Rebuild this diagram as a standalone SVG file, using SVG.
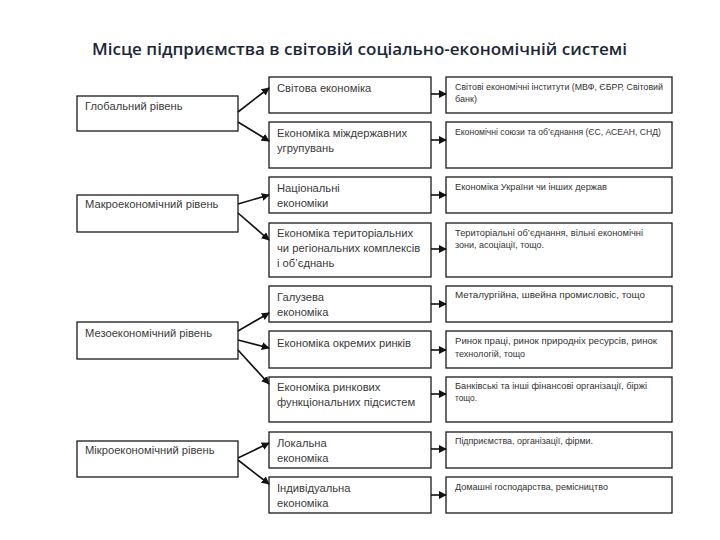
<svg xmlns="http://www.w3.org/2000/svg" width="720" height="540" viewBox="0 0 720 540">
<defs>
<marker id="ah" viewBox="0 0 10 10" refX="9" refY="5" markerWidth="5" markerHeight="5" orient="auto" markerUnits="strokeWidth">
<path d="M0,0 L10,5 L0,10 z" fill="#111"/>
</marker>
<style>
.box{fill:#fff;stroke:#1a1a1a;stroke-width:1.3}
.t{font-family:"Liberation Sans",Arial,sans-serif;font-size:11.2px;fill:#3a3a3a}
.s{font-family:"Liberation Sans",Arial,sans-serif;font-size:9px;fill:#333}
.title{font-family:"Open Sans","Liberation Sans",sans-serif;font-size:16px;font-weight:600;fill:#1b2838}
.c{stroke:#111;stroke-width:1.6;fill:none;marker-end:url(#ah)}
</style>
</defs>
<rect width="720" height="540" fill="#fff"/>
<text class="title" x="92" y="55" textLength="535" lengthAdjust="spacingAndGlyphs">Місце підприємства в світовій соціально-економічній системі</text>

<g id="left-global"><rect class="box" x="77" y="96" width="161" height="35"/><text class="t" x="85" y="110">Глобальний рівень</text></g>
<g id="left-macro"><rect class="box" x="77" y="195" width="161" height="37"/><text class="t" x="85" y="208">Макроекономічний рівень</text></g>
<g id="left-meso"><rect class="box" x="77" y="322" width="161" height="37"/><text class="t" x="85" y="337">Мезоекономічний рівень</text></g>
<g id="left-micro"><rect class="box" x="77" y="441" width="161" height="36"/><text class="t" x="85" y="454">Мікроекономічний рівень</text></g>

<g id="m1"><rect class="box" x="269" y="77" width="162" height="36"/><text class="t" x="277" y="92">Світова економіка</text></g>
<g id="m2"><rect class="box" x="269" y="122" width="162" height="46"/><text class="t" x="277" y="137">Економіка міждержавних</text><text class="t" x="277" y="152">угрупувань</text></g>
<g id="m3"><rect class="box" x="269" y="177" width="162" height="36"/><text class="t" x="277" y="192">Національні</text><text class="t" x="277" y="207">економіки</text></g>
<g id="m4"><rect class="box" x="269" y="223" width="162" height="54"/><text class="t" x="277" y="237">Економіка територіальних</text><text class="t" x="277" y="252">чи регіональних комплексів</text><text class="t" x="277" y="267">і об’єднань</text></g>
<g id="m5"><rect class="box" x="269" y="286" width="162" height="36"/><text class="t" x="277" y="301">Галузева</text><text class="t" x="277" y="316">економіка</text></g>
<g id="m6"><rect class="box" x="269" y="331" width="162" height="37"/><text class="t" x="277" y="347">Економіка окремих ринків</text></g>
<g id="m7"><rect class="box" x="269" y="377" width="162" height="45"/><text class="t" x="277" y="391">Економіка ринкових</text><text class="t" x="277" y="406">функціональних підсистем</text></g>
<g id="m8"><rect class="box" x="269" y="432" width="162" height="36"/><text class="t" x="277" y="447">Локальна</text><text class="t" x="277" y="462">економіка</text></g>
<g id="m9"><rect class="box" x="269" y="477" width="162" height="36"/><text class="t" x="277" y="492">Індивідуальна</text><text class="t" x="277" y="507">економіка</text></g>

<g id="r1"><rect class="box" x="446" y="77" width="226" height="36"/><text class="s" x="455" y="90" textLength="208" lengthAdjust="spacingAndGlyphs">Світові економічні інститути (МВФ, ЄБРР, Світовий</text><text class="s" x="455" y="102" textLength="22" lengthAdjust="spacingAndGlyphs">банк)</text></g>
<g id="r2"><rect class="box" x="446" y="122" width="226" height="46"/><text class="s" x="455" y="135" textLength="206" lengthAdjust="spacingAndGlyphs">Економічні союзи та об’єднання (ЄС, АСЕАН, СНД)</text></g>
<g id="r3"><rect class="box" x="446" y="177" width="226" height="36"/><text class="s" x="455" y="190" textLength="152" lengthAdjust="spacingAndGlyphs">Економіка України чи інших держав</text></g>
<g id="r4"><rect class="box" x="446" y="223" width="226" height="54"/><text class="s" x="455" y="236" textLength="188" lengthAdjust="spacingAndGlyphs">Територіальні об’єднання, вільні економічні</text><text class="s" x="455" y="248" textLength="89" lengthAdjust="spacingAndGlyphs">зони, асоціації, тощо.</text></g>
<g id="r5"><rect class="box" x="446" y="286" width="226" height="36"/><text class="s" x="455" y="298" textLength="190" lengthAdjust="spacingAndGlyphs">Металургійна, швейна промисловіс, тощо</text></g>
<g id="r6"><rect class="box" x="446" y="331" width="226" height="37"/><text class="s" x="455" y="344" textLength="202" lengthAdjust="spacingAndGlyphs">Ринок праці, ринок природніх ресурсів, ринок</text><text class="s" x="455" y="357" textLength="70" lengthAdjust="spacingAndGlyphs">технологій, тощо</text></g>
<g id="r7"><rect class="box" x="446" y="377" width="226" height="45"/><text class="s" x="455" y="389" textLength="192" lengthAdjust="spacingAndGlyphs">Банківські та інші фінансові організації, біржі</text><text class="s" x="455" y="401" textLength="22" lengthAdjust="spacingAndGlyphs">тощо.</text></g>
<g id="r8"><rect class="box" x="446" y="432" width="226" height="36"/><text class="s" x="455" y="444" textLength="138" lengthAdjust="spacingAndGlyphs">Підприємства, організації, фірми.</text></g>
<g id="r9"><rect class="box" x="446" y="477" width="226" height="36"/><text class="s" x="455" y="490" textLength="153" lengthAdjust="spacingAndGlyphs">Домашні господарства, ремісництво</text></g>

<g id="connectors">
<line class="c" x1="238" y1="112" x2="269" y2="88"/>
<line class="c" x1="238" y1="122" x2="269" y2="141"/>
<line class="c" x1="238" y1="204" x2="269" y2="195"/>
<line class="c" x1="238" y1="213" x2="269" y2="240"/>
<line class="c" x1="238" y1="331" x2="269" y2="313"/>
<line class="c" x1="238" y1="340" x2="269" y2="348"/>
<line class="c" x1="238" y1="350" x2="269" y2="384"/>
<line class="c" x1="238" y1="458" x2="269" y2="443"/>
<line class="c" x1="238" y1="460" x2="269" y2="484"/>
<line class="c" x1="431" y1="94" x2="446" y2="94"/>
<line class="c" x1="431" y1="140" x2="446" y2="140"/>
<line class="c" x1="431" y1="195" x2="446" y2="195"/>
<line class="c" x1="431" y1="249" x2="446" y2="249"/>
<line class="c" x1="431" y1="304" x2="446" y2="304"/>
<line class="c" x1="431" y1="350" x2="446" y2="350"/>
<line class="c" x1="431" y1="394" x2="446" y2="394"/>
<line class="c" x1="431" y1="449" x2="446" y2="449"/>
<line class="c" x1="431" y1="495" x2="446" y2="495"/>
</g>
</svg>
